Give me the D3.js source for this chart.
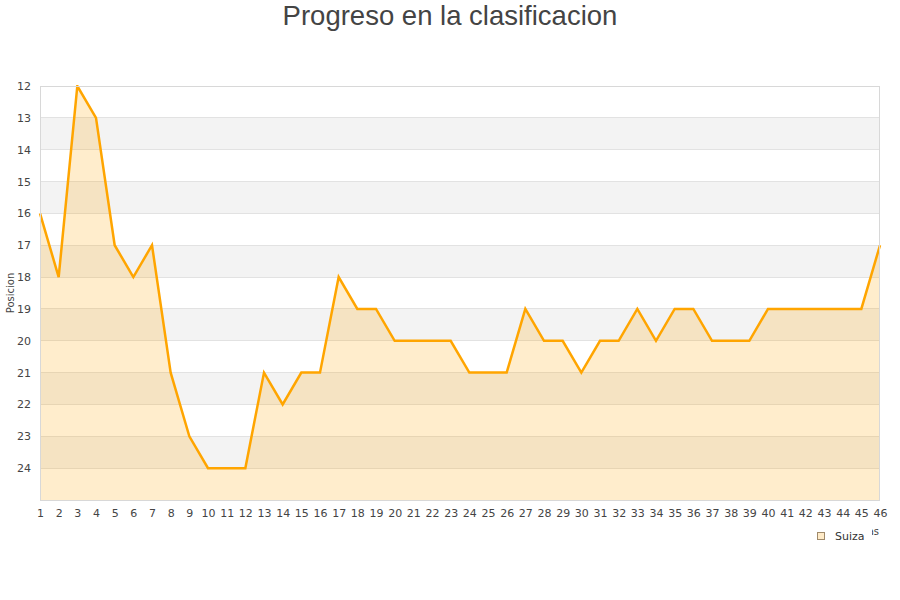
<!DOCTYPE html>
<html><head><meta charset="utf-8">
<script src="https://cdn.jsdelivr.net/npm/d3@7"></script>
<style>body{margin:0;background:#fff}svg{display:block}</style>
</head><body><svg id="c" width="900" height="600"></svg>
<script>
const title = "Progreso en la clasificacion";
const yTitle = "Posicion";
const xTitle = "Jornadas";
const seriesName = "Suiza";
const jornadas = d3.range(1, 47);
const posiciones = [16,18,12,13,17,18,17,21,23,24,24,24,21,22,21,21,18,19,19,20,20,20,20,21,21,21,19,20,20,21,20,20,19,20,19,19,20,20,20,19,19,19,19,19,19,17];
const yTicks = [12,13,14,15,16,17,18,19,20,21,22,23,24];

const svg = d3.select("#c");
const m = {l:40, r:880, t:86, b:500};
const x = d3.scaleLinear().domain([1,46]).range([m.l, m.r]);
const y = d3.scaleLinear().domain([12,25]).range([m.t, m.b]);
const font = "'DejaVu Sans', Verdana, sans-serif";

svg.append("defs").append("clipPath").attr("id","clip")
  .append("rect").attr("x", m.l - 3).attr("y", m.t - 1).attr("width", m.r - m.l + 6).attr("height", m.b - m.t + 2);

// bands
const bands = d3.range(12, 25);
svg.append("g").selectAll("rect").data(bands).join("rect")
  .attr("x", m.l).attr("width", m.r - m.l)
  .attr("y", d => y(d)).attr("height", d => y(d+1) - y(d))
  .attr("fill", d => (d % 2 === 1) ? "#f3f3f3" : "#ffffff");
// grid
svg.append("g").selectAll("line").data(d3.range(13, 25)).join("line")
  .attr("x1", m.l).attr("x2", m.r).attr("y1", d => y(d)).attr("y2", d => y(d))
  .attr("stroke", "#e2e2e2").attr("stroke-width", 1).attr("shape-rendering","crispEdges");

const data = jornadas.map((j,i) => ({j, p: posiciones[i]}));
const plot = svg.append("g").attr("clip-path", "url(#clip)");
plot.append("path").datum(data)
  .attr("d", d3.area().x(d => x(d.j)).y0(y(25)).y1(d => y(d.p)))
  .attr("fill", "rgba(255,165,0,0.2)");
plot.append("path").datum(data)
  .attr("d", d3.line().x(d => x(d.j)).y(d => y(d.p)))
  .attr("fill", "none").attr("stroke", "#ffa500").attr("stroke-width", 2.5)
  .attr("stroke-linejoin","miter");

// border
svg.append("rect").attr("x", m.l + 0.5).attr("y", m.t + 0.5)
  .attr("width", m.r - m.l - 1).attr("height", m.b - m.t)
  .attr("fill", "none").attr("stroke", "#d8d8d8");

// y axis
const ya = svg.append("g").attr("transform", `translate(${m.l},0)`)
  .call(d3.axisLeft(y).tickValues(yTicks).tickSize(0).tickPadding(9));
ya.select(".domain").remove();
ya.selectAll("text").attr("font-family", font).attr("font-size", 11).attr("fill", "#444");

// x axis
const xa = svg.append("g").attr("transform", `translate(0,${m.b})`)
  .call(d3.axisBottom(x).tickValues(jornadas).tickFormat(d3.format("d")).tickSize(0).tickPadding(9));
xa.select(".domain").remove();
xa.selectAll("text").attr("font-family", font).attr("font-size", 11).attr("fill", "#444");

// titles
svg.append("text").attr("x", 450).attr("y", 25).attr("text-anchor", "middle")
  .attr("font-family", "'Liberation Sans', Arial, sans-serif").attr("font-size", 27.5)
  .attr("fill", "#444").text(title);
svg.append("text").attr("transform", "translate(14,293) rotate(-90)")
  .attr("text-anchor", "middle").attr("font-family", font).attr("font-size", 10)
  .attr("fill", "#444").text(yTitle);
svg.append("text").attr("x", 879).attr("y", 535).attr("text-anchor", "end")
  .attr("font-family", font).attr("font-size", 10).attr("fill", "#444").text(xTitle);

// legend
const lg = svg.append("g");
lg.append("rect").attr("x", 810).attr("y", 527).attr("width", 62).attr("height", 22).attr("fill", "#fff");
lg.append("rect").attr("x", 817.5).attr("y", 532.5).attr("width", 7).attr("height", 7)
  .attr("fill", "#ffebc8").attr("stroke", "#a08a6a").attr("stroke-width", 1);
lg.append("text").attr("x", 835).attr("y", 540).attr("font-family", font).attr("font-size", 11)
  .attr("fill", "#333").text(seriesName);
</script></body></html>
